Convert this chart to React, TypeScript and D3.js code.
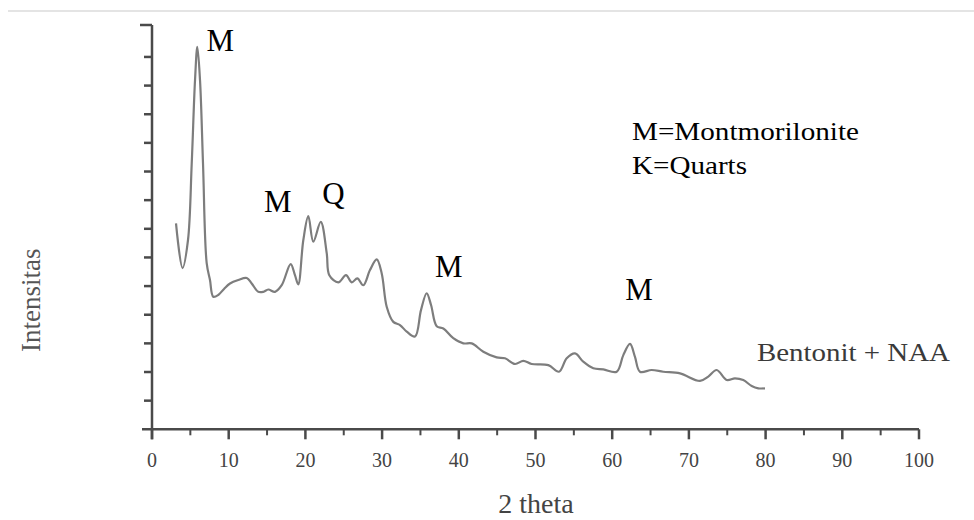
import React, { useEffect, useRef } from 'react';
import * as d3 from 'd3';

// XRD pattern (2 theta in degrees, intensity in axis units)
const theta = [
  3.13, 3.98, 4.69, 5.18, 5.61, 5.91, 6.26, 6.65, 7.13, 7.56, 7.99, 8.64, 9.39, 10.17,
  11.25, 12.35, 13.0, 13.86, 14.51, 15.16, 16.04, 16.91, 18.08, 18.64, 19.07, 19.73,
  20.38, 21.03, 22.0, 22.78, 23.12, 24.29, 25.29, 26.04, 26.77, 27.55, 28.42, 29.3,
  29.95, 30.6, 31.46, 32.33, 33.21, 34.29, 35.07, 35.81, 36.38, 37.12, 37.98, 39.28,
  40.59, 41.68, 43.2, 44.94, 46.02, 47.33, 48.41, 49.5, 51.67, 53.06, 54.07, 55.15,
  56.23, 57.54, 58.84, 60.59, 61.45, 62.32, 62.97, 63.62, 65.15, 66.66, 68.84, 71.45,
  72.53, 73.62, 74.93, 76.01, 77.09, 78.19, 79.05, 79.92,
];
const intensity = [
  7.19, 5.63, 6.6, 9.29, 12.19, 13.35, 12.19, 9.29, 5.8, 5.21, 4.63, 4.69, 4.9, 5.09,
  5.21, 5.28, 5.09, 4.8, 4.8, 4.88, 4.8, 5.03, 5.77, 5.38, 5.06, 6.61,
  7.44, 6.55, 7.24, 6.15, 5.38, 5.13, 5.38, 5.13, 5.27, 5.03, 5.56, 5.93,
  5.44, 4.28, 3.75, 3.64, 3.41, 3.24, 4.16, 4.75, 4.34, 3.6, 3.52, 3.18,
  3.0, 3.0, 2.71, 2.51, 2.48, 2.28, 2.39, 2.28, 2.24, 2.01, 2.48, 2.65,
  2.36, 2.13, 2.09, 2.01, 2.59, 2.98, 2.53, 2.01, 2.07, 2.01, 1.95, 1.69,
  1.84, 2.07, 1.72, 1.78, 1.72, 1.51, 1.43, 1.43,
];

// peak markers
const peakLabels = ['M', 'M', 'Q', 'M', 'M'];
const peakTheta = [7.1, 14.6, 22.2, 36.9, 61.7];
const peakLevel = [13.2, 7.6, 7.85, 5.3, 4.5];

const legendLines = ['M=Montmorilonite', 'K=Quarts'];
const xTicks = [0, 10, 20, 30, 40, 50, 60, 70, 80, 90, 100];
const yTicks = d3.range(0, 15);

const SERIF = '"Liberation Serif", "Times New Roman", serif';

export default function App() {
  const ref = useRef<SVGSVGElement>(null);

  useEffect(() => {
    const svg = d3.select(ref.current);
    svg.selectAll('*').remove();

    const x = d3.scaleLinear().domain([0, 100]).range([152, 919]);
    const y = d3.scaleLinear().domain([0, 14]).range([429.3, 28.3]);
    const axisColor = '#4a4a4a';

    // faint rule at top of the page
    svg.append('line')
      .attr('x1', 8).attr('x2', 974).attr('y1', 11).attr('y2', 11)
      .attr('stroke', '#e4e4e4').attr('stroke-width', 2);

    // axes
    const xAxis = svg.append('g');
    xAxis.append('line')
      .attr('x1', x(0) - 10).attr('x2', x(100)).attr('y1', y(0)).attr('y2', y(0))
      .attr('stroke', axisColor).attr('stroke-width', 2.5);
    xAxis.selectAll('.minor')
      .data(xTicks.slice(0, -1).map(d => d + 5))
      .enter().append('line')
      .attr('x1', d => x(d)).attr('x2', d => x(d))
      .attr('y1', y(0)).attr('y2', y(0) + 6)
      .attr('stroke', axisColor).attr('stroke-width', 2);
    xAxis.selectAll('.major')
      .data(xTicks)
      .enter().append('line')
      .attr('x1', d => x(d)).attr('x2', d => x(d))
      .attr('y1', y(0)).attr('y2', y(0) + 10)
      .attr('stroke', axisColor).attr('stroke-width', 2.5);
    xAxis.selectAll('text')
      .data(xTicks)
      .enter().append('text')
      .attr('x', d => x(d)).attr('y', 466.5)
      .attr('text-anchor', 'middle')
      .style('font-family', SERIF).style('font-size', '20px')
      .attr('fill', '#444')
      .text(d => d);

    const yAxis = svg.append('g');
    yAxis.append('line')
      .attr('x1', x(0)).attr('x2', x(0)).attr('y1', 25).attr('y2', y(0) + 10)
      .attr('stroke', axisColor).attr('stroke-width', 2.5);
    yAxis.selectAll('.tick')
      .data(yTicks.slice(1))
      .enter().append('line')
      .attr('x1', d => x(0) - (d === 14 ? 12 : 8)).attr('x2', x(0))
      .attr('y1', d => (d === 14 ? 25 : y(d))).attr('y2', d => (d === 14 ? 25 : y(d)))
      .attr('stroke', axisColor).attr('stroke-width', 2.5);

    // axis titles
    svg.append('text')
      .attr('x', 536).attr('y', 513)
      .attr('text-anchor', 'middle')
      .style('font-family', SERIF).style('font-size', '28px')
      .attr('fill', '#444')
      .text('2 theta');
    svg.append('text')
      .attr('transform', 'translate(40,352) rotate(-90)')
      .style('font-family', SERIF).style('font-size', '27px')
      .attr('fill', '#555')
      .text('Intensitas');

    // pattern
    const line = d3.line<number>()
      .x((_, i) => x(theta[i]))
      .y(d => y(d))
      .curve(d3.curveCatmullRom.alpha(0.5));
    svg.append('path')
      .datum(intensity)
      .attr('d', line)
      .attr('fill', 'none')
      .attr('stroke', '#7d7d7d')
      .attr('stroke-width', 2.2)
      .attr('stroke-linejoin', 'round');

    // peak labels
    svg.selectAll('.peak')
      .data(peakLabels)
      .enter().append('text')
      .attr('x', (_, i) => x(peakTheta[i]))
      .attr('y', (_, i) => y(peakLevel[i]))
      .style('font-family', SERIF).style('font-size', '31px')
      .attr('fill', '#000')
      .text(d => d);

    // legend text
    svg.selectAll('.legend')
      .data(legendLines)
      .enter().append('text')
      .attr('x', 632)
      .attr('y', (_, i) => 140 + i * 34)
      .attr('textLength', (_, i) => (i === 0 ? 227 : 115))
      .attr('lengthAdjust', 'spacingAndGlyphs')
      .style('font-family', SERIF).style('font-size', '25px')
      .attr('fill', '#000')
      .text(d => d);

    svg.append('text')
      .attr('x', 757).attr('y', 361)
      .attr('textLength', 193)
      .attr('lengthAdjust', 'spacingAndGlyphs')
      .style('font-family', SERIF).style('font-size', '26px')
      .attr('fill', '#3a3a3a')
      .text('Bentonit + NAA');
  }, []);

  return (
    <svg
      ref={ref}
      width={974}
      height={520}
      style={{ position: 'absolute', left: 0, top: 0, background: '#fff' }}
    />
  );
}
